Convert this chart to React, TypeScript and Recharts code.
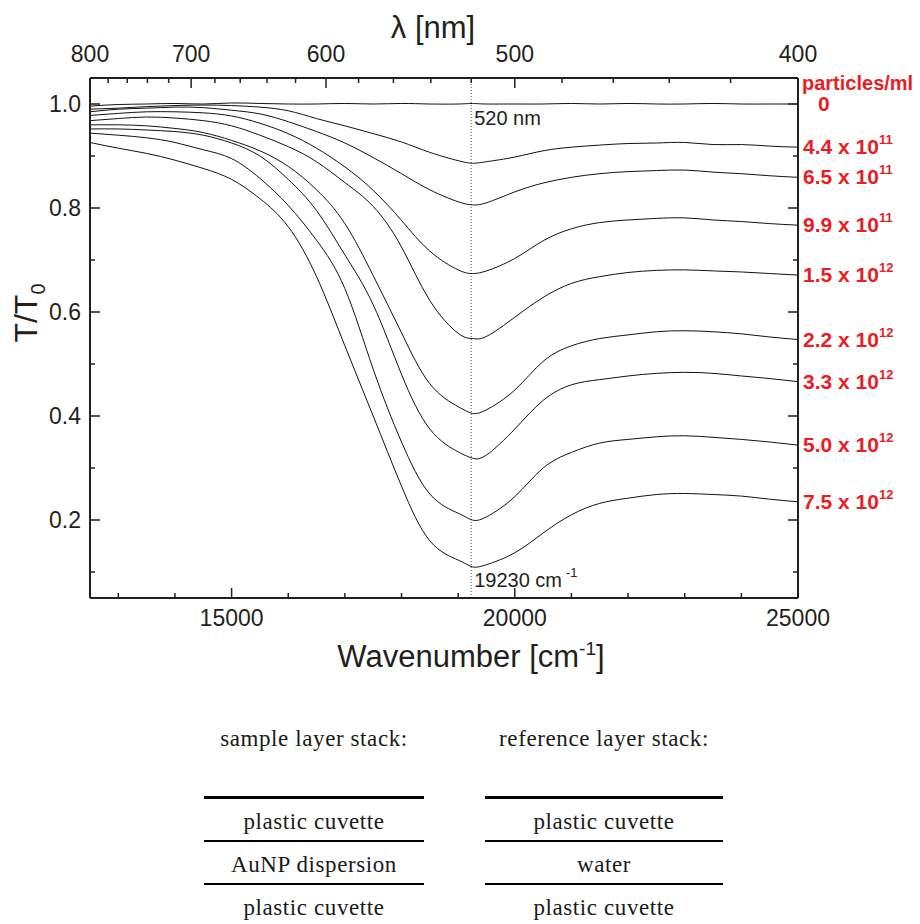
import { LineChart, Line, XAxis, YAxis, ReferenceLine, ReferenceDot, Label } from 'recharts';

// Transmission spectra of gold nanoparticle dispersions, T/T0 vs wavenumber.
const WAVENUMBER = [
  12500, 13000, 13500, 14000, 14500, 15000, 15500, 16000, 16500, 17000, 17500, 18000, 18500,
  19000, 19250, 19500, 20000, 20500, 21000, 21500, 22000, 22500, 23000, 23500, 24000, 24500, 25000,
];

const T_0 = [
  0.996, 0.999, 1.0, 1.001, 1.0, 1.002, 1.001, 1.0, 1.0, 1.001, 1.0, 1.001, 1.0,
  1.0, 1.001, 1.0, 1.0, 1.0, 1.001, 1.0, 1.001, 1.0, 1.0, 1.001, 1.0, 1.0, 1.0,
];
const T_4_4E11 = [
  0.99, 0.992, 0.995, 0.997, 0.998, 0.997, 0.994, 0.987, 0.972, 0.958, 0.943, 0.927, 0.907,
  0.891, 0.886, 0.889, 0.898, 0.91, 0.917, 0.921, 0.924, 0.925, 0.926, 0.922, 0.922, 0.919, 0.917,
];
const T_6_5E11 = [
  0.985, 0.99, 0.992, 0.994, 0.993, 0.988, 0.981, 0.966, 0.947, 0.925, 0.897, 0.866, 0.835,
  0.812, 0.806, 0.81, 0.831, 0.848, 0.859, 0.866, 0.87, 0.872, 0.873, 0.869, 0.866, 0.862, 0.859,
];
const T_9_9E11 = [
  0.978, 0.982, 0.985, 0.985, 0.983, 0.977, 0.963, 0.943, 0.915, 0.879, 0.834, 0.776, 0.717,
  0.681, 0.674, 0.679, 0.703, 0.737, 0.76, 0.772, 0.777, 0.78, 0.781, 0.777, 0.774, 0.77, 0.767,
];
const T_1_5E12 = [
  0.968, 0.972, 0.975, 0.973, 0.968, 0.958, 0.94, 0.918, 0.889, 0.849, 0.803, 0.725, 0.622,
  0.559, 0.549, 0.553, 0.59, 0.628, 0.655, 0.668, 0.676, 0.68, 0.681, 0.679, 0.677, 0.674, 0.671,
];
const T_2_2E12 = [
  0.96, 0.96, 0.958, 0.953, 0.945, 0.93, 0.91, 0.88, 0.835, 0.77, 0.67, 0.56, 0.462,
  0.418, 0.405, 0.412, 0.45, 0.505, 0.535, 0.549, 0.556, 0.562, 0.564, 0.562, 0.558, 0.552, 0.547,
];
const T_3_3E12 = [
  0.952, 0.952, 0.95, 0.947, 0.94, 0.925, 0.9, 0.855, 0.795, 0.71, 0.614, 0.48, 0.375,
  0.331, 0.319, 0.325, 0.375, 0.43, 0.46, 0.47, 0.477, 0.482, 0.484, 0.482, 0.477, 0.472, 0.466,
];
const T_5_0E12 = [
  0.944, 0.94, 0.935, 0.926, 0.912, 0.895, 0.857, 0.805, 0.738, 0.645, 0.49, 0.35, 0.25,
  0.213, 0.2, 0.206, 0.245, 0.3, 0.33, 0.348, 0.355, 0.36, 0.362, 0.359, 0.355, 0.35, 0.344,
];
const T_7_5E12 = [
  0.926, 0.915, 0.905, 0.892, 0.876, 0.855, 0.818, 0.764, 0.668, 0.535, 0.4, 0.265, 0.16,
  0.123, 0.11, 0.114, 0.137, 0.175, 0.21, 0.232, 0.242, 0.249, 0.251, 0.249, 0.246, 0.24, 0.235,
];

const SERIES = [T_0, T_4_4E11, T_6_5E11, T_9_9E11, T_1_5E12, T_2_2E12, T_3_3E12, T_5_0E12, T_7_5E12];
const CONC_MANTISSA = ['0', '4.4', '6.5', '9.9', '1.5', '2.2', '3.3', '5.0', '7.5'];
const CONC_EXPONENT = ['', '11', '11', '11', '12', '12', '12', '12', '12'];

const BOTTOM_TICKS = [13000, 14000, 15000, 16000, 17000, 18000, 19000, 20000, 21000, 22000, 23000, 24000, 25000];
const NM_TICKS = [800, 780, 760, 740, 720, 700, 680, 660, 640, 620, 600, 580, 560, 540, 520, 500, 480, 460, 440, 420, 400];
const Y_TICKS = [0.1, 0.2, 0.3, 0.4, 0.5, 0.6, 0.7, 0.8, 0.9, 1.0];

const PEAK_WAVENUMBER = 19230;
const PEAK_WAVELENGTH = 520;

const SAMPLE_STACK = ['plastic cuvette', 'AuNP dispersion', 'plastic cuvette'];
const REFERENCE_STACK = ['plastic cuvette', 'water', 'plastic cuvette'];

const rows = WAVENUMBER.map((w, i) => {
  const row: Record<string, number> = { w };
  SERIES.forEach((s, k) => {
    row[`c${k}`] = s[i];
  });
  return row;
});

const SANS = '"Liberation Sans", Arial, Helvetica, sans-serif';
const SERIF = '"Liberation Serif", "Times New Roman", serif';
const AXIS = '#231f20';
const INK = '#231f20';
const RED = '#ec1c24';

function BottomTick({ x, y, payload }: any) {
  const major = payload.value % 5000 === 0;
  return (
    <g>
      <line x1={x} y1={y} x2={x} y2={y - (major ? 10 : 5)} stroke={AXIS} strokeWidth={1.5} />
      {major && (
        <text x={x} y={y + 28} textAnchor="middle" fontSize={23} fontFamily={SANS} fill={INK}>
          {payload.value}
        </text>
      )}
    </g>
  );
}

function TopTick({ x, y, payload }: any) {
  const nm = Math.round(1e7 / payload.value);
  const major = nm % 100 === 0;
  return (
    <g>
      <line x1={x} y1={y} x2={x} y2={y + (major ? 10 : 5)} stroke={AXIS} strokeWidth={1.5} />
      {major && (
        <text x={x} y={y - 16} textAnchor="middle" fontSize={23} fontFamily={SANS} fill={INK}>
          {nm}
        </text>
      )}
    </g>
  );
}

function LeftTick({ x, y, payload }: any) {
  const major = Math.round(payload.value * 10) % 2 === 0;
  return (
    <g>
      <line x1={x} y1={y} x2={x + (major ? 10 : 5)} y2={y} stroke={AXIS} strokeWidth={1.5} />
      {major && (
        <text x={x - 9} y={y + 8} textAnchor="end" fontSize={23} fontFamily={SANS} fill={INK}>
          {payload.value.toFixed(1)}
        </text>
      )}
    </g>
  );
}

function RightTick({ x, y, payload }: any) {
  const major = Math.round(payload.value * 10) % 2 === 0;
  return <line x1={x} y1={y} x2={x - (major ? 10 : 5)} y2={y} stroke={AXIS} strokeWidth={1.5} />;
}

function WavenumberTitle({ viewBox }: any) {
  const cx = viewBox.x + viewBox.width / 2 + 27;
  return (
    <text x={cx} y={viewBox.y + 69} textAnchor="middle" fontSize={31} fontFamily={SANS} fill={INK}>
      Wavenumber [cm
      <tspan dy={-12} fontSize={19}>-1</tspan>
      <tspan dy={12}>]</tspan>
    </text>
  );
}

function WavelengthTitle({ viewBox }: any) {
  const cx = viewBox.x + viewBox.width / 2 - 11;
  return (
    <text x={cx} y={viewBox.y + 10} textAnchor="middle" fontSize={31} fontFamily={SANS} fill={INK}>
      λ [nm]
    </text>
  );
}

function TransmissionTitle() {
  return (
    <text
      x={37}
      y={313}
      transform="rotate(-90 37 313)"
      textAnchor="middle"
      fontSize={32}
      fontFamily={SANS}
      fill={INK}
    >
      T/T
      <tspan dy={8} fontSize={20}>0</tspan>
    </text>
  );
}

function PeakLabels({ viewBox }: any) {
  const x = viewBox.x + 3;
  return (
    <g fontFamily={SANS} fill={INK}>
      <text x={x} y={viewBox.y + 47} fontSize={20}>
        {PEAK_WAVELENGTH} nm
      </text>
      <text x={x} y={viewBox.y + viewBox.height - 11} fontSize={20}>
        {PEAK_WAVENUMBER} cm
        <tspan dx={4} dy={-10} fontSize={13}>-1</tspan>
      </text>
    </g>
  );
}

function ConcLabel({ viewBox, mantissa, exponent, header }: any) {
  const x = viewBox.x + 5;
  const y = viewBox.y + 7;
  return (
    <g fontFamily={SANS} fontWeight="bold" fill={RED}>
      {header && (
        <text x={x - 1} y={y - 21} fontSize={20}>
          particles/ml
        </text>
      )}
      {exponent ? (
        <text x={x} y={y} fontSize={21}>
          {mantissa} x 10
          <tspan dy={-10} fontSize={13}>{exponent}</tspan>
        </text>
      ) : (
        <text x={x + 15} y={y} fontSize={21}>
          {mantissa}
        </text>
      )}
    </g>
  );
}

function LayerStack({ left, width, title, layers }: { left: number; width: number; title: string; layers: string[] }) {
  const text = { position: 'absolute' as const, left, width, textAlign: 'center' as const, height: 30, lineHeight: '30px' };
  const rule = (top: number, h: number) => (
    <div style={{ position: 'absolute', left, width, top: top - h / 2, height: h, background: '#000' }} />
  );
  return (
    <>
      <div style={{ ...text, top: 724 }}>{title}</div>
      {rule(797, 3)}
      <div style={{ ...text, top: 807 }}>{layers[0]}</div>
      {rule(841, 2)}
      <div style={{ ...text, top: 850 }}>{layers[1]}</div>
      {rule(884, 2)}
      <div style={{ ...text, top: 893 }}>{layers[2]}</div>
    </>
  );
}

export default function App() {
  return (
    <div style={{ position: 'absolute', left: 0, top: 0, width: 920, height: 924, background: '#fff' }}>
      <LineChart width={920} height={680} data={rows} margin={{ top: 28, right: 0, bottom: 22, left: 30 }}>
        <XAxis
          xAxisId="bottom"
          dataKey="w"
          type="number"
          domain={[12500, 25000]}
          ticks={BOTTOM_TICKS}
          interval={0}
          height={60}
          tickSize={0}
          tickMargin={0}
          tickLine={false}
          tick={<BottomTick />}
          axisLine={{ stroke: AXIS, strokeWidth: 2 }}
          allowDataOverflow
        >
          <Label content={<WavenumberTitle />} />
        </XAxis>
        <XAxis
          xAxisId="top"
          dataKey="w"
          orientation="top"
          type="number"
          domain={[12500, 25000]}
          ticks={NM_TICKS.map((nm) => 1e7 / nm)}
          interval={0}
          height={50}
          tickSize={0}
          tickMargin={0}
          tickLine={false}
          tick={<TopTick />}
          axisLine={{ stroke: AXIS, strokeWidth: 2 }}
          allowDataOverflow
        >
          <Label content={<WavelengthTitle />} />
        </XAxis>
        <YAxis
          yAxisId="left"
          type="number"
          domain={[0.05, 1.05]}
          ticks={Y_TICKS}
          interval={0}
          width={60}
          tickSize={0}
          tickMargin={0}
          tickLine={false}
          tick={<LeftTick />}
          axisLine={{ stroke: AXIS, strokeWidth: 2 }}
          allowDataOverflow
        >
          <Label content={<TransmissionTitle />} />
        </YAxis>
        <YAxis
          yAxisId="right"
          orientation="right"
          type="number"
          domain={[0.05, 1.05]}
          ticks={Y_TICKS}
          interval={0}
          width={122}
          tickSize={0}
          tickMargin={0}
          tickLine={false}
          tick={<RightTick />}
          axisLine={{ stroke: AXIS, strokeWidth: 2 }}
          allowDataOverflow
        />
        <ReferenceLine
          x={PEAK_WAVENUMBER}
          xAxisId="bottom"
          yAxisId="left"
          stroke="#555"
          strokeWidth={1}
          strokeDasharray="1 2"
          label={<PeakLabels />}
        />
        {/* invisible copy of the baseline so the wavelength axis gets its scale */}
        <Line
          xAxisId="top"
          yAxisId="left"
          dataKey="c0"
          stroke="none"
          dot={false}
          activeDot={false}
          legendType="none"
          isAnimationActive={false}
        />
        {SERIES.map((_, k) => (
          <Line
            key={k}
            xAxisId="bottom"
            yAxisId="left"
            type="natural"
            dataKey={`c${k}`}
            stroke="#111"
            strokeWidth={1}
            dot={false}
            isAnimationActive={false}
          />
        ))}
        {SERIES.map((s, k) => (
          <ReferenceDot
            key={`lab${k}`}
            xAxisId="bottom"
            yAxisId="left"
            x={WAVENUMBER[WAVENUMBER.length - 1]}
            y={s[s.length - 1]}
            r={0}
            stroke="none"
            fill="none"
            ifOverflow="visible"
            label={<ConcLabel mantissa={CONC_MANTISSA[k]} exponent={CONC_EXPONENT[k]} header={k === 0} />}
          />
        ))}
      </LineChart>
      <div style={{ fontFamily: SERIF, fontSize: 23, letterSpacing: 0.6, color: '#1a1a1a' }}>
        <LayerStack left={204} width={220} title="sample layer stack:" layers={SAMPLE_STACK} />
        <LayerStack left={485} width={238} title="reference layer stack:" layers={REFERENCE_STACK} />
      </div>
    </div>
  );
}
